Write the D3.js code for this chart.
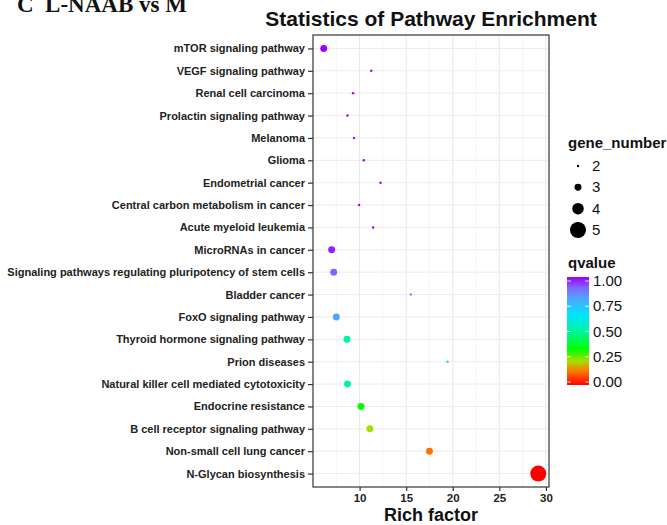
<!DOCTYPE html>
<html>
<head>
<meta charset="utf-8">
<script src="https://cdn.jsdelivr.net/npm/d3@7"></script>
<style>
  body { margin: 0; background: #fff; }
  text { font-family: "Liberation Sans", Arial, sans-serif; }
</style>
</head>
<body>
<svg id="chart"></svg>
<script>
var width = 667, height = 525;

// pathways, top to bottom
var pathways = [
  "mTOR signaling pathway",
  "VEGF signaling pathway",
  "Renal cell carcinoma",
  "Prolactin signaling pathway",
  "Melanoma",
  "Glioma",
  "Endometrial cancer",
  "Central carbon metabolism in cancer",
  "Acute myeloid leukemia",
  "MicroRNAs in cancer",
  "Signaling pathways regulating pluripotency of stem cells",
  "Bladder cancer",
  "FoxO signaling pathway",
  "Thyroid hormone signaling pathway",
  "Prion diseases",
  "Natural killer cell mediated cytotoxicity",
  "Endocrine resistance",
  "B cell receptor signaling pathway",
  "Non-small cell lung cancer",
  "N-Glycan biosynthesis"
];
var richFactor = [6.15, 11.25, 9.3, 8.7, 9.4, 10.45, 12.25, 9.95, 11.45, 7.0,
                  7.22, 15.5, 7.5, 8.65, 19.45, 8.7, 10.15, 11.1, 17.5, 29.18];
var geneNumber = [3, 2, 2, 2, 2, 2, 2, 2, 2, 3,
                  3, 2, 3, 3, 2, 3, 3, 3, 3, 5];
var qvalue = [1.0, 1.0, 1.0, 1.0, 1.0, 1.0, 1.0, 1.0, 1.0, 0.97,
              0.9, 0.82, 0.8, 0.5, 0.5, 0.5, 0.33, 0.22, 0.12, 0.0];

var xTicks = [10, 15, 20, 25, 30];
var sizeBreaks = [2, 3, 4, 5];
var qBreaks = [0, 0.25, 0.5, 0.75, 1];
var colorStops = [0, 0.12, 0.22, 0.33, 0.5, 0.65, 0.8, 0.9, 1];
var colorValues = ["#ff0000", "#ff7000", "#aadd00", "#00ff00", "#00f5a0",
                   "#00e5ff", "#4da6ff", "#7f66ff", "#9900ff"];

var data = pathways.map(function (p, i) {
  return {name: p, rich: richFactor[i], gene: geneNumber[i], q: qvalue[i]};
});

var panel = {left: 313, right: 549, top: 35, bottom: 487};

var svg = d3.select("#chart")
  .attr("width", width)
  .attr("height", height);

var ext = d3.extent(richFactor);
var pad = (ext[1] - ext[0]) * 0.05;
var x = d3.scaleLinear()
  .domain([ext[0] - pad, ext[1] + pad])
  .range([panel.left, panel.right]);

var y = d3.scalePoint()
  .domain(pathways)
  .range([panel.top, panel.bottom])
  .padding(0.6);

var size = d3.scaleLinear().domain([2, 5]).range([1.2, 8]);
var color = d3.scaleLinear().domain(colorStops).range(colorValues);

// panel grid
var grid = svg.append("g");
var minor = d3.range(7.5, 30.5, 5);
grid.selectAll("line.minor")
  .data(minor.filter(function (d) { return x(d) > panel.left && x(d) < panel.right; }))
  .enter().append("line")
  .attr("x1", x).attr("x2", x)
  .attr("y1", panel.top).attr("y2", panel.bottom)
  .attr("stroke", "#f4f4f4").attr("stroke-width", 0.8);
grid.selectAll("line.vmajor")
  .data(xTicks)
  .enter().append("line")
  .attr("x1", x).attr("x2", x)
  .attr("y1", panel.top).attr("y2", panel.bottom)
  .attr("stroke", "#e8e8e8").attr("stroke-width", 1);
grid.selectAll("line.hmajor")
  .data(pathways)
  .enter().append("line")
  .attr("x1", panel.left).attr("x2", panel.right)
  .attr("y1", y).attr("y2", y)
  .attr("stroke", "#ececec").attr("stroke-width", 1);

// points
svg.append("g")
  .selectAll("circle")
  .data(data)
  .enter().append("circle")
  .attr("cx", function (d) { return x(d.rich); })
  .attr("cy", function (d) { return y(d.name); })
  .attr("r", function (d) { return size(d.gene); })
  .attr("fill", function (d) { return color(d.q); });

// panel border
svg.append("rect")
  .attr("x", panel.left).attr("y", panel.top)
  .attr("width", panel.right - panel.left)
  .attr("height", panel.bottom - panel.top)
  .attr("fill", "none")
  .attr("stroke", "#444").attr("stroke-width", 1.3);

// axes
var xAxis = svg.append("g")
  .attr("transform", "translate(0," + panel.bottom + ")")
  .call(d3.axisBottom(x).tickValues(xTicks).tickSize(4).tickPadding(3));
xAxis.select(".domain").remove();
xAxis.selectAll("line").attr("stroke", "#333").attr("stroke-width", 1.2);
xAxis.selectAll("text")
  .attr("font-family", "Liberation Sans, Arial, sans-serif")
  .attr("font-size", 11.5).attr("font-weight", "bold").attr("fill", "#222");

var yAxis = svg.append("g")
  .attr("transform", "translate(" + panel.left + ",0)")
  .call(d3.axisLeft(y).tickSize(5).tickPadding(3));
yAxis.select(".domain").remove();
yAxis.selectAll("line").attr("stroke", "#333").attr("stroke-width", 1.2);
yAxis.selectAll("text")
  .attr("font-family", "Liberation Sans, Arial, sans-serif")
  .attr("font-size", 11).attr("font-weight", "bold").attr("fill", "#222");

// titles
svg.append("text")
  .attr("x", 431).attr("y", 26)
  .attr("text-anchor", "middle")
  .attr("font-size", 21).attr("font-weight", "bold").attr("fill", "#111")
  .text("Statistics of Pathway Enrichment");

svg.append("text")
  .attr("x", 431).attr("y", 521)
  .attr("text-anchor", "middle")
  .attr("font-size", 18).attr("font-weight", "bold").attr("fill", "#111")
  .text("Rich factor");

svg.append("text")
  .attr("x", 17).attr("y", 12)
  .style("font-family", "'Liberation Serif', 'Times New Roman', serif")
  .attr("font-size", 23).attr("font-weight", "bold").attr("fill", "#111")
  .attr("xml:space", "preserve")
  .text("C  L-NAAB vs M");

// size legend
var legend = svg.append("g");
legend.append("text")
  .attr("x", 568).attr("y", 148)
  .attr("font-size", 15).attr("font-weight", "bold").attr("fill", "#111")
  .text("gene_number");

var sizeY = d3.scalePoint().domain(sizeBreaks).range([166, 230]);
var sizeItem = legend.selectAll("g.size")
  .data(sizeBreaks)
  .enter().append("g")
  .attr("transform", function (d) { return "translate(0," + sizeY(d) + ")"; });
sizeItem.append("circle")
  .attr("cx", 578).attr("cy", 0)
  .attr("r", size)
  .attr("fill", "#000");
sizeItem.append("text")
  .attr("x", 592).attr("y", 5)
  .attr("font-size", 15).attr("fill", "#111")
  .text(function (d) { return d; });

// colour legend
legend.append("text")
  .attr("x", 568).attr("y", 268)
  .attr("font-size", 15).attr("font-weight", "bold").attr("fill", "#111")
  .text("qvalue");

var defs = svg.append("defs");
var grad = defs.append("linearGradient")
  .attr("id", "qgrad")
  .attr("x1", 0).attr("y1", 1).attr("x2", 0).attr("y2", 0);
grad.selectAll("stop")
  .data(colorStops)
  .enter().append("stop")
  .attr("offset", function (d) { return d; })
  .attr("stop-color", function (d) { return color(d); });

var barTop = 277, barBottom = 385;
var qy = d3.scaleLinear().domain([0, 1]).range([barBottom - 3, barTop + 4]);
legend.append("rect")
  .attr("x", 567).attr("y", barTop)
  .attr("width", 22).attr("height", barBottom - barTop)
  .attr("fill", "url(#qgrad)");
var qItem = legend.selectAll("g.q")
  .data(qBreaks)
  .enter().append("g");
qItem.append("line")
  .attr("x1", 567).attr("x2", 571)
  .attr("y1", qy).attr("y2", qy)
  .attr("stroke", "#fff").attr("stroke-width", 0.8);
qItem.append("line")
  .attr("x1", 585).attr("x2", 589)
  .attr("y1", qy).attr("y2", qy)
  .attr("stroke", "#fff").attr("stroke-width", 0.8);
qItem.append("text")
  .attr("x", 593).attr("y", function (d) { return qy(d) + 5; })
  .attr("font-size", 15).attr("fill", "#111")
  .text(function (d) { return d3.format(".2f")(d); });
</script>
</body>
</html>
